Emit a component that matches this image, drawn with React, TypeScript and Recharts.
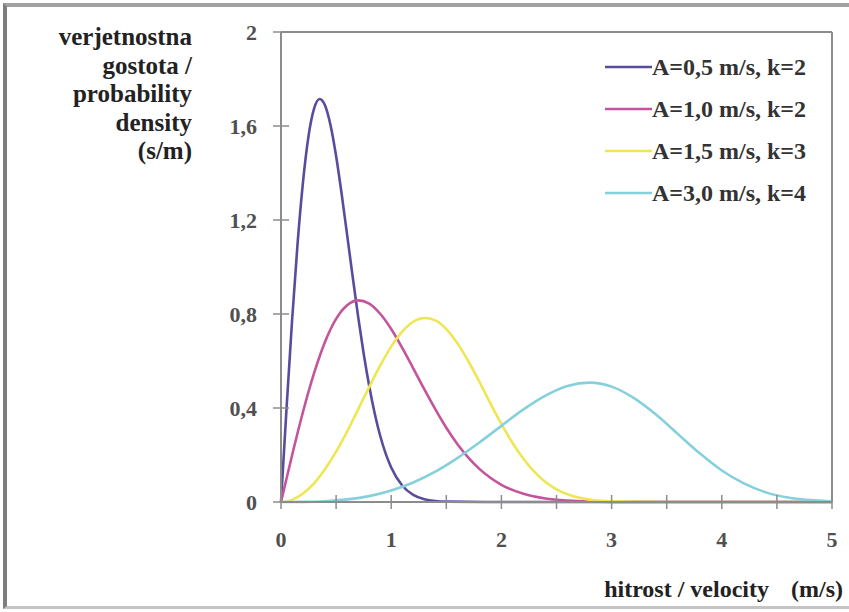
import React from "react";
import {
  LineChart,
  Line,
  XAxis,
  YAxis,
  ReferenceLine,
  Legend,
  Label,
} from "recharts";

// Velocity (m/s) sample points and probability density values (s/m)
const s1X = [0, 0.05, 0.1, 0.15, 0.2, 0.25, 0.3, 0.35, 0.4, 0.45, 0.5, 0.55, 0.6, 0.65, 0.7, 0.75, 0.8, 0.85, 0.9, 0.95, 1.0, 1.1, 1.2, 1.3, 1.4, 1.5, 2, 3, 4, 5];
const s1Y = [0, 0.396, 0.769, 1.097, 1.363, 1.558, 1.674, 1.715, 1.687, 1.602, 1.472, 1.312, 1.137, 0.96, 0.789, 0.632, 0.495, 0.378, 0.282, 0.206, 0.147, 0.07, 0.03, 0.012, 0.004, 0.0015, 0, 0, 0, 0];

const s2X = [0, 0.1, 0.2, 0.3, 0.4, 0.5, 0.6, 0.7, 0.8, 0.9, 1.0, 1.1, 1.2, 1.3, 1.4, 1.5, 1.6, 1.7, 1.8, 1.9, 2.0, 2.2, 2.4, 2.6, 2.8, 3.0, 4, 5];
const s2Y = [0, 0.198, 0.384, 0.548, 0.682, 0.779, 0.837, 0.858, 0.844, 0.801, 0.736, 0.656, 0.569, 0.48, 0.395, 0.316, 0.247, 0.189, 0.141, 0.103, 0.073, 0.035, 0.015, 0.006, 0.002, 0.0007, 0, 0];

const s3X = [0, 0.1, 0.2, 0.3, 0.4, 0.5, 0.6, 0.7, 0.8, 0.9, 1.0, 1.1, 1.2, 1.3, 1.4, 1.5, 1.6, 1.7, 1.8, 1.9, 2.0, 2.1, 2.2, 2.3, 2.4, 2.5, 2.6, 2.7, 2.8, 2.9, 3.0, 3.5, 4, 5];
const s3Y = [0, 0.009, 0.036, 0.079, 0.14, 0.214, 0.3, 0.394, 0.489, 0.58, 0.661, 0.725, 0.767, 0.783, 0.773, 0.736, 0.676, 0.599, 0.512, 0.42, 0.332, 0.252, 0.184, 0.128, 0.085, 0.054, 0.033, 0.019, 0.01, 0.005, 0.003, 0, 0, 0];

const s4X = [0, 0.2, 0.4, 0.6, 0.8, 1.0, 1.2, 1.4, 1.6, 1.8, 2.0, 2.2, 2.4, 2.6, 2.8, 3.0, 3.2, 3.4, 3.6, 3.8, 4.0, 4.2, 4.4, 4.6, 4.8, 5.0];
const s4Y = [0, 0.0004, 0.003, 0.011, 0.025, 0.049, 0.083, 0.129, 0.187, 0.253, 0.324, 0.394, 0.453, 0.494, 0.508, 0.491, 0.443, 0.373, 0.29, 0.207, 0.134, 0.079, 0.041, 0.019, 0.008, 0.003];

const seriesNames = ["A=0,5 m/s, k=2", "A=1,0 m/s, k=2", "A=1,5 m/s, k=3", "A=3,0 m/s, k=4"];
const seriesColors = ["#5a4c9c", "#c4549c", "#eee652", "#86d0dc"];

const xTicks = [0, 0.5, 1, 1.5, 2, 2.5, 3, 3.5, 4, 4.5, 5];
const yTicks = [0, 0.4, 0.8, 1.2, 1.6, 2];
const yTickLabels = ["0", "0,4", "0,8", "1,2", "1,6", "2"];

const yTitleLines = ["verjetnostna", "gostota /", "probability", "density", "(s/m)"];
const xTitleMain = "hitrost / velocity";
const xTitleUnit = "(m/s)";

const toPoints = (xs: number[], ys: number[]) => xs.map((x, i) => ({ v: x, d: ys[i] }));
const seriesData = [toPoints(s1X, s1Y), toPoints(s2X, s2Y), toPoints(s3X, s3Y), toPoints(s4X, s4Y)];

const FONT = "'Liberation Serif', 'Times New Roman', serif";
const AXIS = "#8c8c8c";

const XTick = (props: any) => {
  const { x, y, payload } = props;
  const v = payload.value;
  const isInt = Math.abs(v - Math.round(v)) < 1e-9;
  return (
    <g>
      <line x1={x} x2={x} y1={y - 7} y2={y + 7} stroke={AXIS} strokeWidth={1.5} />
      {isInt && (
        <text x={x} y={y + 45} textAnchor="middle" fontFamily={FONT} fontSize={22} fontWeight="bold" fill="#505050">
          {String(v)}
        </text>
      )}
    </g>
  );
};

const YTick = (props: any) => {
  const { x, y, payload } = props;
  const idx = yTicks.indexOf(payload.value);
  return (
    <g>
      <line x1={x - 8} x2={x + 8} y1={y} y2={y} stroke={AXIS} strokeWidth={1.5} />
      <text x={x - 24} y={y + 8} textAnchor="end" fontFamily={FONT} fontSize={22} fontWeight="bold" fill="#505050">
        {idx >= 0 ? yTickLabels[idx] : ""}
      </text>
    </g>
  );
};

const YTitle = () => (
  <text textAnchor="end" fontFamily={FONT} fontSize={25} fontWeight="bold" fill="#222">
    {yTitleLines.map((t, i) => (
      <tspan key={i} x={192} y={45 + i * 28.5}>
        {t}
      </tspan>
    ))}
  </text>
);

const XTitle = () => (
  <g fontFamily={FONT} fontSize={24} fontWeight="bold" fill="#222">
    <text x={769} y={597} textAnchor="end">
      {xTitleMain}
    </text>
    <text x={843} y={597} textAnchor="end">
      {xTitleUnit}
    </text>
  </g>
);

const LegendContent = () => (
  <div style={{ fontFamily: FONT, fontSize: 24, fontWeight: "bold", color: "#333" }}>
    {seriesNames.map((n, i) => (
      <div key={i} style={{ display: "flex", alignItems: "center", height: 42, whiteSpace: "nowrap" }}>
        <svg width={47} height={10} style={{ display: "block" }}>
          <line x1={0} x2={47} y1={5} y2={5} stroke={seriesColors[i]} strokeWidth={2.5} />
        </svg>
        <span>{n}</span>
      </div>
    ))}
  </div>
);

export default function App() {
  return (
    <div style={{ position: "absolute", left: 0, top: 0, width: 849, height: 612, background: "#fff", overflow: "hidden" }}>
      <div
        style={{
          position: "absolute",
          left: 3,
          top: 3,
          width: 860,
          height: 606,
          borderLeft: "4px solid #7e7e7e",
          borderTop: "4px solid #a0a0a0",
          borderBottom: "3px solid #c4c4c4",
          boxSizing: "border-box",
        }}
      />
      <LineChart
        width={849}
        height={612}
        margin={{ top: 32, right: 17, bottom: 0, left: 0 }}
        style={{ position: "absolute", left: 0, top: 0 }}
      >
        <XAxis
          dataKey="v"
          type="number"
          domain={[0, 5]}
          ticks={xTicks}
          interval={0}
          height={110}
          tickSize={0}
          tickMargin={0}
          tickLine={false}
          axisLine={{ stroke: AXIS, strokeWidth: 2 }}
          tick={<XTick />}
          allowDuplicatedCategory={false}
        >
          <Label content={<XTitle />} />
        </XAxis>
        <YAxis
          type="number"
          domain={[0, 2]}
          ticks={yTicks}
          interval={0}
          width={281}
          tickSize={0}
          tickMargin={0}
          tickLine={false}
          axisLine={{ stroke: AXIS, strokeWidth: 2 }}
          tick={<YTick />}
        >
          <Label content={<YTitle />} />
        </YAxis>
        <ReferenceLine y={2} stroke={AXIS} strokeWidth={2} />
        <ReferenceLine x={5} stroke={AXIS} strokeWidth={2} />
        <Legend
          layout="vertical"
          verticalAlign="middle"
          align="center"
          content={<LegendContent />}
          wrapperStyle={{ left: 605, top: 46, width: 240 }}
        />
        {seriesData.map((d, i) => (
          <Line
            key={i}
            data={d}
            dataKey="d"
            name={seriesNames[i]}
            type="monotone"
            stroke={seriesColors[i]}
            strokeWidth={2.6}
            dot={false}
            activeDot={false}
            isAnimationActive={false}
          />
        ))}
      </LineChart>
    </div>
  );
}
